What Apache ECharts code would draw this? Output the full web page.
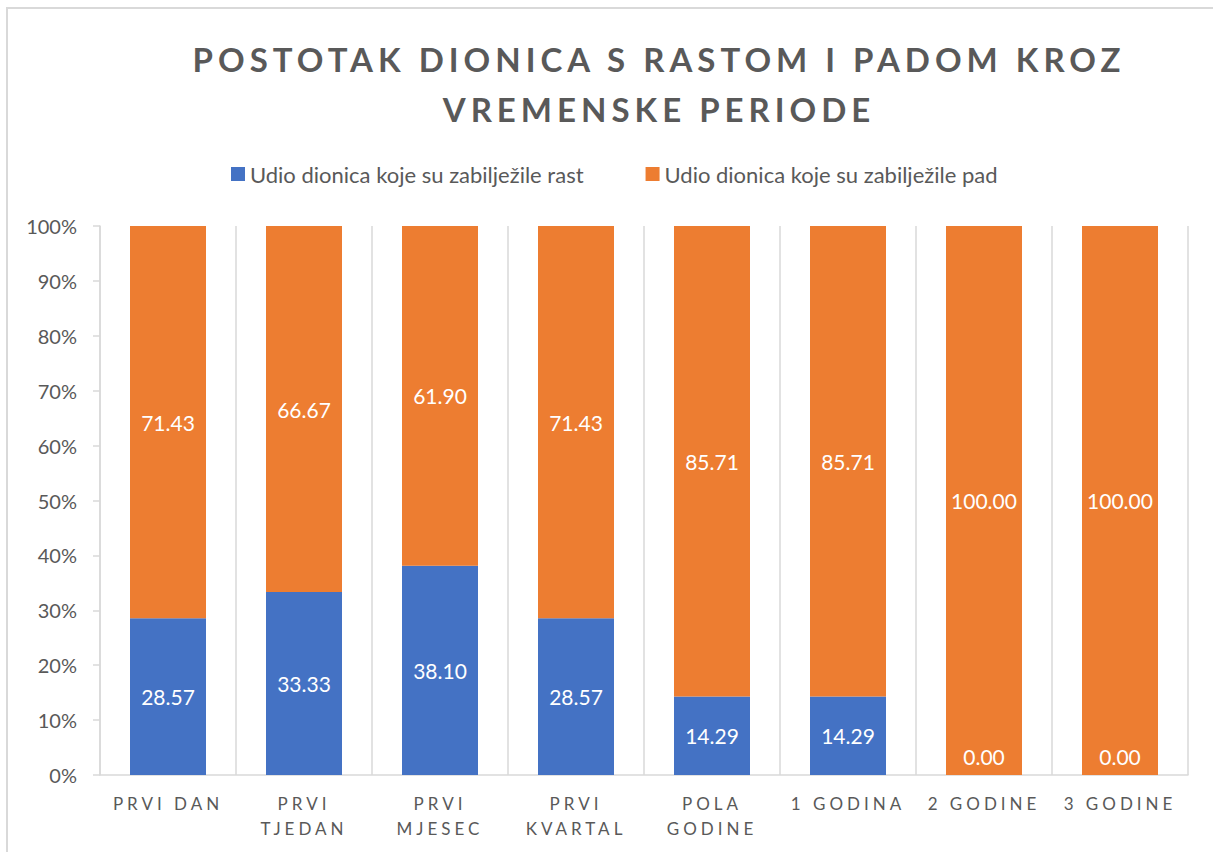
<!DOCTYPE html>
<html>
<head>
<meta charset="utf-8">
<script src="https://cdn.jsdelivr.net/npm/echarts@6/dist/echarts.min.js"></script>
<style>
  html, body { margin: 0; padding: 0; background: #fff; }
  .frame {
    position: absolute; left: 6px; top: 7px; right: 0; bottom: 0;
    border-left: 2px solid #d9d9d9; border-top: 2px solid #d9d9d9;
  }
  #chart { position: absolute; left: 0; top: 0; width: 1213px; height: 852px; }
</style>
</head>
<body>
<div class="frame"></div>
<div id="chart"></div>
<script>
const titleText = 'POSTOTAK DIONICA S RASTOM I PADOM KROZ\nVREMENSKE PERIODE';
const categories = ['PRVI DAN', 'PRVI\nTJEDAN', 'PRVI\nMJESEC', 'PRVI\nKVARTAL', 'POLA\nGODINE', '1 GODINA', '2 GODINE', '3 GODINE'];
const seriesNames = ['Udio dionica koje su zabilježile rast', 'Udio dionica koje su zabilježile pad'];
const rastValues = [28.57, 33.33, 38.10, 28.57, 14.29, 14.29, 0.00, 0.00];
const padValues = [71.43, 66.67, 61.90, 71.43, 85.71, 85.71, 100.00, 100.00];

const FONT = 'Lato, "Open Sans", sans-serif';
const GRAY = '#595959';
const LINE = '#d9d9d9';

const chart = echarts.init(document.getElementById('chart'), null, { renderer: 'svg' });

const labelStyle = {
  show: true,
  position: 'inside',
  color: '#fff',
  fontSize: 21,
  fontFamily: FONT,
  formatter: p => Number(p.value).toFixed(2)
};

chart.setOption({
  animation: false,
  backgroundColor: 'transparent',
  title: {
    text: titleText,
    left: 659,
    top: 34,
    padding: 0,
    textAlign: 'center',
    textStyle: {
      fontFamily: FONT,
      fontSize: 33,
      fontWeight: 'bold',
      color: GRAY,
      lineHeight: 50
    }
  },
  legend: {
    data: seriesNames,
    left: 231,
    top: 163,
    padding: 0,
    icon: 'rect',
    itemWidth: 14,
    itemHeight: 14,
    itemGap: 62,
    textStyle: { fontFamily: FONT, fontSize: 22, color: GRAY }
  },
  grid: { left: 100, right: 25, top: 226, bottom: 77 },
  xAxis: {
    type: 'category',
    data: categories,
    axisLine: { lineStyle: { color: LINE, width: 1.5 } },
    axisTick: { show: false },
    splitLine: { show: true, lineStyle: { color: LINE, width: 1.5 } },
    axisLabel: {
      color: GRAY,
      fontFamily: FONT,
      fontSize: 17,
      lineHeight: 25,
      margin: 16,
      interval: 0
    }
  },
  yAxis: {
    type: 'value',
    min: 0,
    max: 100,
    interval: 10,
    axisLine: { show: true, lineStyle: { color: LINE, width: 1.5 } },
    axisTick: { show: true, length: 7, lineStyle: { color: LINE, width: 1.5 } },
    splitLine: { show: false },
    axisLabel: {
      formatter: '{value}%',
      color: GRAY,
      fontFamily: FONT,
      fontSize: 20,
      margin: 23
    }
  },
  series: [
    {
      name: seriesNames[0],
      type: 'bar',
      stack: 'total',
      barWidth: 76,
      itemStyle: { color: '#4472c4' },
      label: labelStyle,
      // zero-height bars: put the label just above the baseline, like Excel does
      data: rastValues.map(v => v === 0
        ? { value: v, label: { position: 'insideBottom', distance: 8 } }
        : v)
    },
    {
      name: seriesNames[1],
      type: 'bar',
      stack: 'total',
      barWidth: 76,
      itemStyle: { color: '#ed7d31' },
      label: labelStyle,
      data: padValues
    }
  ]
});

// letter-spaced title and category labels (Excel style)
const spaced = {};
titleText.split('\n').forEach(t => { spaced[t] = '5px'; });
categories.forEach(c => c.split('\n').forEach(t => { spaced[t] = '4px'; }));

function applySpacing() {
  document.querySelectorAll('#chart text').forEach(el => {
    const s = spaced[el.textContent.trim()];
    if (s) el.setAttribute('letter-spacing', s);
  });
}
chart.on('finished', applySpacing);
setTimeout(applySpacing, 50);
</script>
</body>
</html>
